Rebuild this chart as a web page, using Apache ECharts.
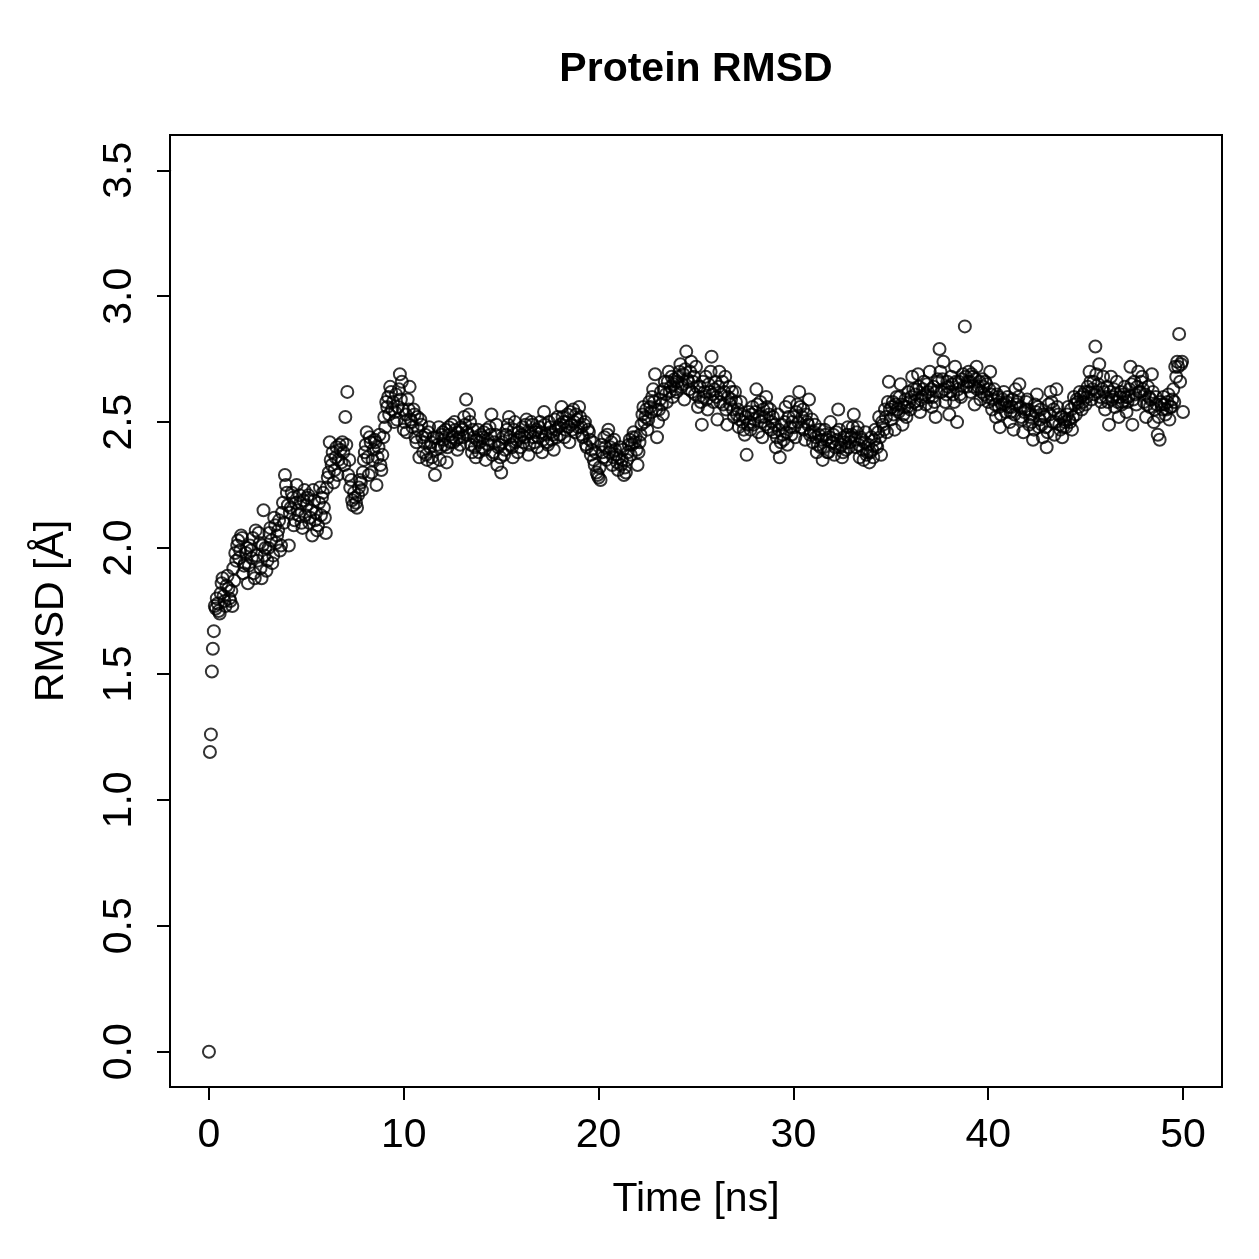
<!DOCTYPE html>
<html>
<head>
<meta charset="utf-8">
<script src="https://cdn.jsdelivr.net/npm/echarts@6/dist/echarts.min.js"></script>
<style>
  html, body { margin: 0; padding: 0; background: #fff; }
  #chart { width: 1259px; height: 1259px; }
</style>
</head>
<body>
<div id="chart"></div>
<script>
// RMSD, one row per ns.
// rmsdA: frames at t = 0.0, 0.1, ... ; rmsdB: frames at t = 0.05, 0.15, ...
var timeStep = 0.1
var rmsdA = [
  0.00, 1.26, 1.60, 1.77, 1.80, 1.75, 1.82, 1.88, 1.79, 1.85,
  1.84, 1.79, 1.77, 1.87, 1.95, 2.03, 1.99, 2.04, 1.93, 1.98,
  1.86, 2.01, 1.96, 1.90, 2.07, 1.95, 2.02, 1.88, 2.15, 2.00,
  1.95, 2.06, 2.03, 1.97, 2.09, 2.05, 2.11, 2.01, 2.18, 2.29,
  2.22, 2.01, 2.16, 2.20, 2.11, 2.25, 2.13, 2.18, 2.08, 2.23,
  2.17, 2.21, 2.12, 2.05, 2.19, 2.14, 2.09, 2.24, 2.20, 2.16,
  2.06, 2.28, 2.42, 2.33, 2.26, 2.36, 2.29, 2.41, 2.34, 2.38,
  2.52, 2.62, 2.35, 2.27, 2.17, 2.20, 2.16, 2.24, 2.26, 2.30,
  2.38, 2.46, 2.29, 2.42, 2.35, 2.43, 2.25, 2.40, 2.33, 2.37,
  2.52, 2.58, 2.60, 2.64, 2.55, 2.50, 2.61, 2.56, 2.69, 2.66,
  2.47, 2.53, 2.59, 2.64, 2.50, 2.55, 2.44, 2.52, 2.36, 2.49,
  2.38, 2.45, 2.35, 2.48, 2.42, 2.34, 2.29, 2.44, 2.48, 2.40,
  2.46, 2.41, 2.34, 2.48, 2.42, 2.44, 2.50, 2.43, 2.46, 2.41,
  2.47, 2.52, 2.59, 2.45, 2.50, 2.38, 2.44, 2.36, 2.47, 2.42,
  2.40, 2.46, 2.35, 2.43, 2.48, 2.53, 2.38, 2.45, 2.33, 2.41,
  2.30, 2.44, 2.39, 2.47, 2.52, 2.41, 2.36, 2.50, 2.43, 2.46,
  2.40, 2.48, 2.44, 2.51, 2.37, 2.46, 2.49, 2.42, 2.47, 2.44,
  2.50, 2.38, 2.54, 2.45, 2.41, 2.48, 2.43, 2.39, 2.47, 2.52,
  2.45, 2.56, 2.50, 2.47, 2.53, 2.42, 2.49, 2.55, 2.46, 2.51,
  2.56, 2.48, 2.44, 2.50, 2.40, 2.46, 2.37, 2.42, 2.33, 2.30,
  2.28, 2.27, 2.38, 2.44, 2.35, 2.47, 2.40, 2.33, 2.43, 2.37,
  2.31, 2.40, 2.35, 2.29, 2.30, 2.38, 2.43, 2.41, 2.46, 2.44,
  2.33, 2.42, 2.49, 2.56, 2.52, 2.47, 2.58, 2.54, 2.63, 2.69,
  2.44, 2.55, 2.62, 2.53, 2.66, 2.58, 2.70, 2.64, 2.60, 2.67,
  2.62, 2.68, 2.73, 2.65, 2.59, 2.78, 2.66, 2.70, 2.62, 2.68,
  2.72, 2.56, 2.64, 2.49, 2.60, 2.68, 2.55, 2.62, 2.76, 2.58,
  2.66, 2.51, 2.70, 2.61, 2.57, 2.68, 2.49, 2.64, 2.59, 2.55,
  2.62, 2.53, 2.48, 2.58, 2.50, 2.45, 2.37, 2.54, 2.47, 2.56,
  2.51, 2.63, 2.46, 2.58, 2.44, 2.52, 2.60, 2.48, 2.55, 2.50,
  2.46, 2.40, 2.53, 2.36, 2.49, 2.43, 2.56, 2.41, 2.58, 2.45,
  2.52, 2.44, 2.57, 2.62, 2.48, 2.55, 2.43, 2.50, 2.59, 2.46,
  2.42, 2.49, 2.38, 2.45, 2.40, 2.35, 2.47, 2.43, 2.38, 2.50,
  2.42, 2.37, 2.46, 2.55, 2.40, 2.36, 2.44, 2.39, 2.48, 2.42,
  2.45, 2.53, 2.40, 2.48, 2.36, 2.43, 2.35, 2.46, 2.38, 2.34,
  2.44, 2.36, 2.47, 2.40, 2.52, 2.37, 2.49, 2.55, 2.46, 2.66,
  2.51, 2.58, 2.47, 2.60, 2.54, 2.65, 2.49, 2.56, 2.52, 2.62,
  2.55, 2.68, 2.58, 2.63, 2.69, 2.54, 2.60, 2.66, 2.57, 2.62,
  2.70, 2.56, 2.64, 2.52, 2.67, 2.79, 2.62, 2.74, 2.58, 2.66,
  2.53, 2.68, 2.61, 2.72, 2.50, 2.66, 2.60, 2.69, 2.88, 2.64,
  2.70, 2.62, 2.68, 2.57, 2.72, 2.64, 2.59, 2.67, 2.61, 2.65,
  2.58, 2.70, 2.55, 2.63, 2.52, 2.60, 2.48, 2.57, 2.62, 2.54,
  2.60, 2.50, 2.56, 2.47, 2.63, 2.58, 2.65, 2.52, 2.46, 2.55,
  2.59, 2.49, 2.53, 2.43, 2.57, 2.61, 2.48, 2.55, 2.44, 2.52,
  2.40, 2.57, 2.62, 2.50, 2.45, 2.63, 2.53, 2.47, 2.44, 2.51,
  2.48, 2.56, 2.50, 2.47, 2.60, 2.53, 2.58, 2.62, 2.55, 2.61,
  2.57, 2.64, 2.70, 2.59, 2.66, 2.80, 2.62, 2.73, 2.58, 2.68,
  2.55, 2.64, 2.49, 2.68, 2.60, 2.56, 2.66, 2.52, 2.62, 2.58,
  2.64, 2.54, 2.60, 2.72, 2.49, 2.66, 2.57, 2.70, 2.62, 2.68,
  2.58, 2.52, 2.64, 2.56, 2.69, 2.50, 2.60, 2.45, 2.43, 2.57,
  2.60, 2.53, 2.58, 2.51, 2.56, 2.63, 2.72, 2.74, 2.85, 2.73,
  2.54
]
var rmsdB = [
  1.19, 1.51, 1.67, 1.76, 1.78, 1.74, 1.86, 1.81, 1.77, 1.89,
  1.80, 1.83, 1.92, 1.98, 2.01, 1.96, 2.05, 1.90, 1.94, 2.00,
  1.93, 1.99, 2.04, 1.88, 1.97, 2.06, 1.92, 2.01, 1.97, 1.91,
  2.00, 2.08, 1.94, 2.12, 2.02, 2.07, 1.99, 2.14, 2.10, 2.25,
  2.17, 2.14, 2.22, 2.09, 2.18, 2.15, 2.21, 2.10, 2.19, 2.13,
  2.20, 2.10, 2.15, 2.23, 2.11, 2.07, 2.18, 2.13, 2.22, 2.12,
  2.24, 2.30, 2.35, 2.38, 2.31, 2.40, 2.35, 2.39, 2.42, 2.33,
  2.41, 2.29, 2.24, 2.19, 2.22, 2.18, 2.21, 2.27, 2.23, 2.35,
  2.41, 2.36, 2.44, 2.30, 2.39, 2.42, 2.36, 2.45, 2.31, 2.44,
  2.48, 2.56, 2.53, 2.62, 2.58, 2.54, 2.51, 2.63, 2.59, 2.55,
  2.50, 2.46, 2.55, 2.51, 2.48, 2.53, 2.42, 2.47, 2.51, 2.44,
  2.42, 2.37, 2.46, 2.40, 2.36, 2.44, 2.39, 2.41, 2.35, 2.45,
  2.43, 2.47, 2.40, 2.45, 2.49, 2.42, 2.47, 2.39, 2.44, 2.48,
  2.44, 2.49, 2.46, 2.53, 2.41, 2.47, 2.40, 2.43, 2.38, 2.45,
  2.44, 2.39, 2.47, 2.41, 2.45, 2.37, 2.42, 2.49, 2.40, 2.36,
  2.42, 2.37, 2.45, 2.49, 2.44, 2.40, 2.47, 2.42, 2.38, 2.44,
  2.45, 2.42, 2.49, 2.46, 2.41, 2.50, 2.44, 2.46, 2.40, 2.48,
  2.46, 2.43, 2.49, 2.42, 2.50, 2.46, 2.45, 2.51, 2.44, 2.48,
  2.49, 2.52, 2.44, 2.50, 2.48, 2.54, 2.47, 2.50, 2.53, 2.48,
  2.52, 2.45, 2.49, 2.41, 2.47, 2.43, 2.39, 2.35, 2.38, 2.29,
  2.32, 2.41, 2.36, 2.40, 2.45, 2.38, 2.42, 2.36, 2.39, 2.34,
  2.36, 2.33, 2.39, 2.32, 2.35, 2.41, 2.37, 2.44, 2.42, 2.39,
  2.38, 2.45, 2.53, 2.50, 2.55, 2.51, 2.56, 2.60, 2.58, 2.55,
  2.50, 2.59, 2.57, 2.63, 2.61, 2.66, 2.62, 2.68, 2.65, 2.63,
  2.66, 2.70, 2.64, 2.69, 2.71, 2.67, 2.63, 2.74, 2.66, 2.61,
  2.64, 2.60, 2.58, 2.66, 2.62, 2.59, 2.65, 2.70, 2.61, 2.63,
  2.60, 2.64, 2.58, 2.66, 2.62, 2.55, 2.60, 2.57, 2.62, 2.52,
  2.58, 2.55, 2.51, 2.53, 2.47, 2.52, 2.49, 2.50, 2.53, 2.49,
  2.54, 2.57, 2.52, 2.50, 2.55, 2.49, 2.56, 2.53, 2.47, 2.52,
  2.49, 2.44, 2.47, 2.42, 2.45, 2.50, 2.46, 2.52, 2.48, 2.50,
  2.48, 2.54, 2.50, 2.56, 2.52, 2.47, 2.53, 2.49, 2.45, 2.51,
  2.46, 2.44, 2.41, 2.47, 2.43, 2.40, 2.45, 2.38, 2.44, 2.42,
  2.45, 2.40, 2.43, 2.47, 2.41, 2.38, 2.42, 2.45, 2.40, 2.44,
  2.48, 2.43, 2.46, 2.41, 2.44, 2.39, 2.42, 2.37, 2.41, 2.38,
  2.39, 2.43, 2.41, 2.46, 2.44, 2.50, 2.47, 2.52, 2.58, 2.55,
  2.56, 2.53, 2.57, 2.55, 2.60, 2.57, 2.53, 2.59, 2.56, 2.58,
  2.60, 2.63, 2.61, 2.57, 2.64, 2.59, 2.63, 2.61, 2.65, 2.60,
  2.63, 2.60, 2.58, 2.62, 2.66, 2.70, 2.67, 2.63, 2.61, 2.64,
  2.62, 2.65, 2.58, 2.66, 2.63, 2.61, 2.67, 2.64, 2.68, 2.66,
  2.66, 2.69, 2.64, 2.67, 2.63, 2.66, 2.62, 2.64, 2.66, 2.60,
  2.63, 2.61, 2.59, 2.57, 2.61, 2.56, 2.53, 2.59, 2.57, 2.58,
  2.56, 2.54, 2.59, 2.53, 2.57, 2.60, 2.56, 2.51, 2.54, 2.58,
  2.55, 2.52, 2.50, 2.47, 2.54, 2.56, 2.51, 2.49, 2.53, 2.48,
  2.46, 2.53, 2.58, 2.55, 2.50, 2.56, 2.49, 2.52, 2.48, 2.50,
  2.53, 2.51, 2.55, 2.52, 2.57, 2.59, 2.56, 2.60, 2.58, 2.62,
  2.60, 2.62, 2.66, 2.63, 2.61, 2.69, 2.65, 2.60, 2.63, 2.62,
  2.60, 2.58, 2.62, 2.59, 2.63, 2.61, 2.58, 2.60, 2.57, 2.61,
  2.60, 2.58, 2.63, 2.65, 2.59, 2.61, 2.64, 2.62, 2.66, 2.63,
  2.61, 2.57, 2.60, 2.59, 2.62, 2.55, 2.57, 2.52, 2.58, 2.55,
  2.57, 2.55, 2.61, 2.56, 2.59, 2.58, 2.68, 2.72, 2.66, 2.74
]
var xRange = [0, 50]
var yRange = [0, 3.5]
var xStep = 10
var yStep = 0.5

var points = []
rmsdA.forEach(function (v, i) {
  points.push([Math.round(i * timeStep * 100) / 100, v])
})
rmsdB.forEach(function (v, i) {
  points.push([Math.round((i * timeStep + timeStep / 2) * 100) / 100, v])
})

// plot box like R: axis ranges padded by 4% on each side
var box = { left: 170, top: 135, width: 1052, height: 952 }
var pad = 0.04
var inner = {
  left: box.left + box.width * pad / (1 + 2 * pad),
  width: box.width / (1 + 2 * pad),
  top: box.top + box.height * pad / (1 + 2 * pad),
  height: box.height / (1 + 2 * pad)
}
var xOffset = box.top + box.height - (inner.top + inner.height)
var yOffset = inner.left - box.left

var font = 'Liberation Sans, Arial, Helvetica, sans-serif'
var lineStyle = { color: '#000', width: 2 }
var chart = echarts.init(document.getElementById('chart'))
chart.setOption({
  animation: false,
  backgroundColor: '#fff',
  graphic: [{
    type: 'text',
    x: box.left + box.width / 2,
    y: 70,
    style: {
      text: 'Protein RMSD',
      font: 'bold 41px ' + font,
      fill: '#000',
      align: 'center',
      verticalAlign: 'middle'
    }
  }],
  grid: [
    // outer box
    { left: box.left, top: box.top, width: box.width, height: box.height,
      show: true, borderColor: '#000', borderWidth: 2, backgroundColor: 'transparent' },
    // data region (0..50, 0..3.5); its axes are pushed out to the box edges
    { left: inner.left, top: inner.top, width: inner.width, height: inner.height }
  ],
  xAxis: [{
    gridIndex: 0, type: 'value', show: false,
    min: xRange[0] - (xRange[1] - xRange[0]) * pad, max: xRange[1] + (xRange[1] - xRange[0]) * pad
  }, {
    gridIndex: 1,
    type: 'value',
    position: 'bottom',
    min: xRange[0], max: xRange[1], interval: xStep,
    offset: xOffset,
    name: 'Time [ns]',
    nameLocation: 'middle',
    nameGap: 92,
    nameTextStyle: { fontFamily: font, fontSize: 41, color: '#000' },
    axisLine: { show: true, onZero: false, lineStyle: lineStyle },
    splitLine: { show: false },
    axisTick: { show: true, inside: false, length: 13, lineStyle: lineStyle },
    axisLabel: { fontFamily: font, fontSize: 41, color: '#000', margin: 28 }
  }],
  yAxis: [{
    gridIndex: 0, type: 'value', show: false,
    min: yRange[0] - (yRange[1] - yRange[0]) * pad, max: yRange[1] + (yRange[1] - yRange[0]) * pad
  }, {
    gridIndex: 1,
    type: 'value',
    position: 'left',
    min: yRange[0], max: yRange[1], interval: yStep,
    offset: yOffset,
    name: 'RMSD [Å]',
    nameLocation: 'middle',
    nameGap: 98,
    nameRotate: 90,
    nameTextStyle: { fontFamily: font, fontSize: 41, color: '#000' },
    axisLine: { show: true, onZero: false, lineStyle: lineStyle },
    splitLine: { show: false },
    axisTick: { show: true, inside: false, length: 13, lineStyle: lineStyle },
    axisLabel: {
      rotate: 90, fontFamily: font, fontSize: 41, color: '#000', margin: 30,
      formatter: function (v) { return v.toFixed(1) }
    }
  }],
  series: [{
    type: 'scatter',
    xAxisIndex: 1,
    yAxisIndex: 1,
    clip: false,
    data: points,
    symbol: 'circle',
    symbolSize: 12,
    itemStyle: { color: 'rgba(0,0,0,0)', borderColor: '#000', borderWidth: 2 }
  }]
})
</script>
</body>
</html>
